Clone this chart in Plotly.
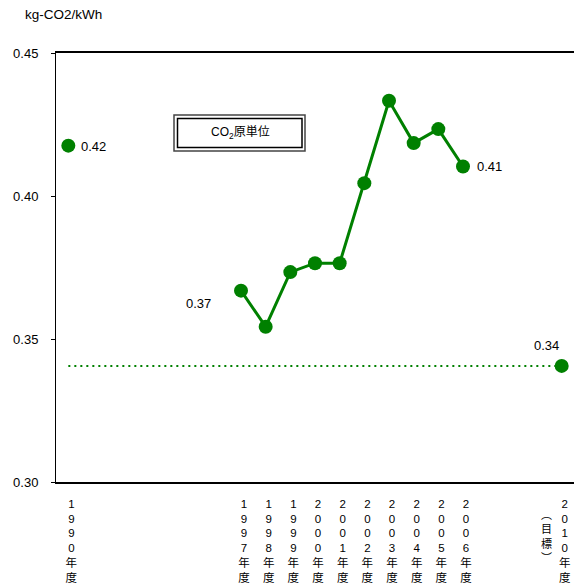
import plotly.graph_objects as go

# ---- data ----
years_trend = [1997, 1998, 1999, 2000, 2001, 2002, 2003, 2004, 2005, 2006]
co2_trend = [0.3669, 0.3543, 0.3734, 0.3765, 0.3765, 0.4045, 0.4333, 0.4185, 0.4234, 0.4103]
base_year = 1990
base_value = 0.4176
target_year = 2010
target_value = 0.3406
tick_years = [1990, 1997, 1998, 1999, 2000, 2001, 2002, 2003, 2004, 2005, 2006, 2010]
tick_labels = ["1990年度", "1997年度", "1998年度", "1999年度", "2000年度", "2001年度",
               "2002年度", "2003年度", "2004年度", "2005年度", "2006年度", "2010年度"]
value_labels = {"base": "0.42", "first": "0.37", "last": "0.41", "target": "0.34"}
legend_text = "CO<sub>2</sub>原単位"
unit_text = "kg-CO2/kWh"
target_note = "目標"

GREEN = "#008000"
FONT = "Liberation Sans, Noto Sans CJK JP, sans-serif"

W, H = 574, 586
L, R, T, B = 56, 574, 53, 482


def px(xp):
    return (xp - L) / (R - L)


def py(yp):
    return (B - yp) / (B - T)


fig = go.Figure()

# target dotted line
fig.add_trace(go.Scatter(
    x=[base_year, target_year], y=[target_value, target_value],
    mode="lines", line=dict(color=GREEN, width=2, dash="2px,4px"),
    hoverinfo="skip", showlegend=False, cliponaxis=False))

# trend
fig.add_trace(go.Scatter(
    x=years_trend, y=co2_trend, mode="lines+markers",
    line=dict(color=GREEN, width=3),
    marker=dict(color=GREEN, size=14),
    showlegend=False, cliponaxis=False))

# standalone points
fig.add_trace(go.Scatter(
    x=[base_year, target_year], y=[base_value, target_value], mode="markers",
    marker=dict(color=GREEN, size=14), showlegend=False, cliponaxis=False))

vfont = dict(family=FONT, size=13, color="#000")
anns = [
    dict(x=base_year, y=base_value, text=value_labels["base"], xanchor="left",
         yanchor="middle", xshift=11, yshift=-1),
    dict(x=years_trend[0], y=co2_trend[0], text=value_labels["first"], xanchor="right",
         yanchor="middle", xshift=-28, yshift=-13),
    dict(x=years_trend[-1], y=co2_trend[-1], text=value_labels["last"], xanchor="left",
         yanchor="middle", xshift=12, yshift=0),
    dict(x=target_year, y=target_value, text=value_labels["target"], xanchor="center",
         yanchor="middle", xshift=-15, yshift=20),
]
for a in anns:
    a.update(xref="x", yref="y", showarrow=False, font=vfont)
    fig.add_annotation(**a)

# target note (vertical, with vertical brackets)
fig.add_annotation(x=target_year, y=py(504), yref="paper", xref="x", yanchor="top",
                   xanchor="center", xshift=-15, showarrow=False,
                   text="<br>".join(["︵"] + list(target_note) + ["︶"]),
                   font=dict(family="Noto Sans CJK JP", size=11, color="#000"))

# unit label
fig.add_annotation(x=px(23), y=py(14), xref="paper", yref="paper", xanchor="left",
                   yanchor="middle", showarrow=False, text=unit_text,
                   font=dict(family=FONT, size=13.5, color="#000"))

# legend box (double border)
fig.add_shape(type="rect", xref="paper", yref="paper",
              x0=px(174), x1=px(305), y0=py(151), y1=py(115),
              line=dict(color="#444", width=1.5), fillcolor="white", layer="above")
fig.add_shape(type="rect", xref="paper", yref="paper",
              x0=px(177.5), x1=px(302), y0=py(147.5), y1=py(118.5),
              line=dict(color="#000", width=1.5), layer="above")
fig.add_annotation(x=px(240), y=py(133), xref="paper", yref="paper", showarrow=False,
                   yanchor="middle", text=legend_text,
                   font=dict(family=FONT, size=12, color="#000"))

fig.update_layout(
    width=W, height=H,
    margin=dict(l=L, r=W - R, t=T, b=H - B),
    plot_bgcolor="white", paper_bgcolor="white",
    xaxis=dict(range=[base_year - 0.5, target_year + 0.5], automargin=False,
               tickmode="array", tickvals=tick_years,
               ticktext=["<br>".join(list(t)) for t in tick_labels],
               ticks="", showgrid=False, zeroline=False,
               showline=True, linecolor="#000", linewidth=1.5, mirror=True,
               tickfont=dict(family=FONT, size=11.5, color="#000"),
               ticklabelshift=3, ticklabelstandoff=10, ticklabeloverflow="allow"),
    xaxis2=dict(overlaying="x", anchor="y", side="bottom", automargin=False,
                range=[0, (R - L) / 24.2], tickmode="array",
                tickvals=list(range(1, 21)), ticks="inside", ticklen=4,
                tickcolor="#000", showticklabels=False, showgrid=False,
                zeroline=False, showline=False),
    yaxis=dict(range=[0.30, 0.45], dtick=0.05, tickformat=".2f", automargin=False,
               ticks="outside", ticklen=4, tickcolor="#000",
               showgrid=False, zeroline=False,
               showline=True, linecolor="#000", linewidth=1,
               tickfont=dict(family=FONT, size=13, color="#000"),
               ticklabelstandoff=10),
)

fig.write_html("out.html", config={"displayModeBar": False},
               post_script="document.body.style.margin='0';document.body.style.overflow='hidden';")
